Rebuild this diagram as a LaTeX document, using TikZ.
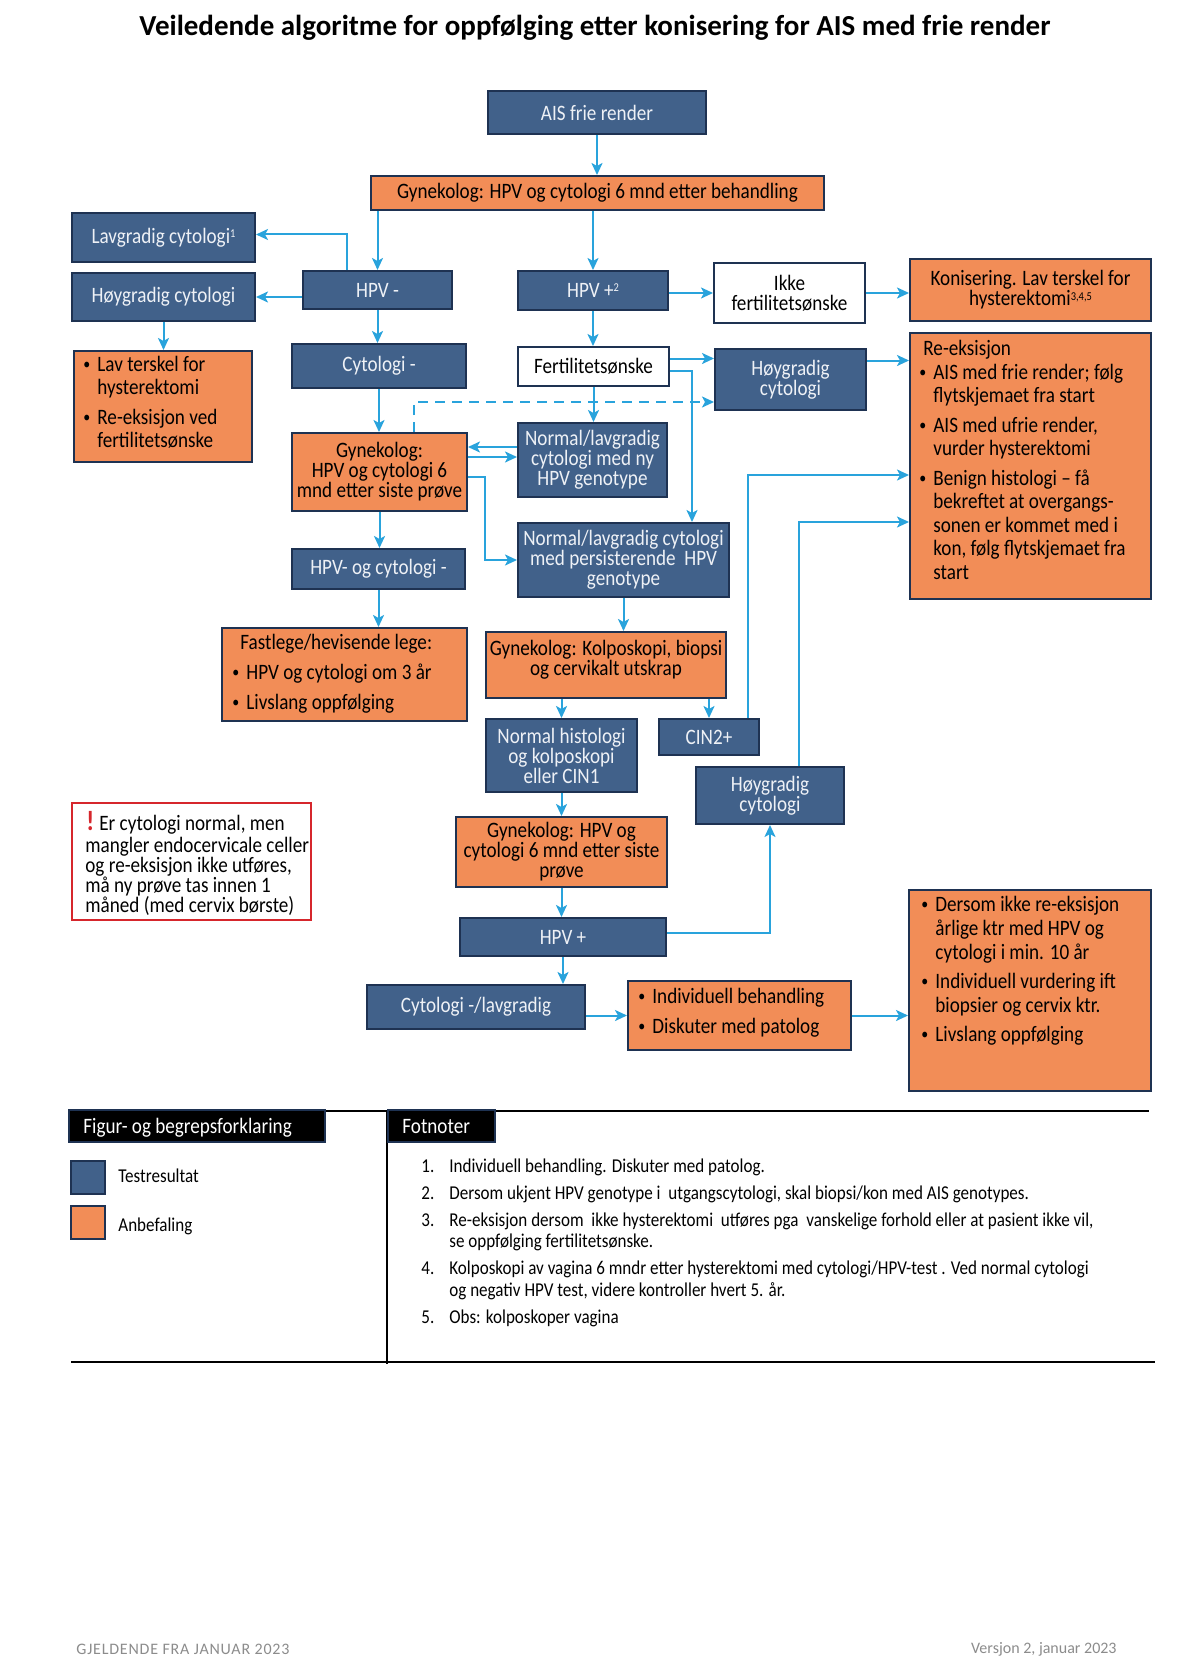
\documentclass[tikz,border=0pt]{standalone}
\usepackage{fontspec}
\setmainfont{Carlito}[FakeStretch=0.87]
\newfontfamily\titlefont{Carlito}
\newfontfamily\footfont{Carlito}
\newfontfamily\footcaps{Carlito}[LetterSpace=5]
\usetikzlibrary{arrows.meta,calc}
\definecolor{boxblue}{RGB}{65,97,138}
\definecolor{boxedge}{RGB}{30,50,82}
\definecolor{boxorange}{RGB}{242,141,87}
\definecolor{arrowblue}{RGB}{41,163,220}
\definecolor{alertred}{RGB}{214,38,44}
\definecolor{footgray}{RGB}{140,140,140}
\definecolor{whitetext}{RGB}{238,241,246}
\lineskiplimit=-100pt
\newcommand\bodyfont{\fontsize{11}{10}\selectfont}
\newcommand\bulmark{\makebox[7pt][l]{\raisebox{0.2ex}{\fontsize{8}{8}\selectfont\textbullet}}}
\newcommand\bulind{\hspace*{7pt}}
\newcommand\fnnum[1]{\makebox[14pt][l]{#1}}
\newcommand\fnind{\hspace*{14pt}}
\newcommand\supmark[1]{\raisebox{0.55ex}{\fontsize{6}{6}\selectfont #1}}
% box from corner (x1,y1) to (x2,y2) in picture pixels
\newcommand\mkbox[7]{\node[#1, minimum width={0.5pt*(#5-#3)}, minimum height={0.5pt*(#6-#4)}] (#2) at ({0.5*(#3+#5)},{0.5*(#4+#6)}) {#7};}
\tikzset{
  boxbase/.style={draw=boxedge, line width=1pt, inner sep=0pt, align=center, font=\bodyfont},
  bluebox/.style={boxbase, fill=boxblue, text=whitetext},
  orangebox/.style={boxbase, fill=boxorange, text=black},
  whitebox/.style={boxbase, fill=white, text=black},
  notebox/.style={draw=alertred, line width=1pt, fill=white, inner sep=0pt},
  headbox/.style={draw=boxedge, line width=1pt, fill=black, inner sep=0pt},
  txt/.style={inner sep=0pt, align=left, font=\bodyfont, text=black},
  arr/.style={draw=arrowblue, line width=1pt, -{Stealth[length=6pt,width=5.5pt,inset=1.5pt]}},
  rule/.style={draw=black, line width=1pt},
}
\begin{document}
\begin{tikzpicture}[x=0.5pt,y=-0.5pt]
\fill[white] (0,0) rectangle (1180,1669);
\useasboundingbox (0,0) rectangle (1180,1669);

% title
\node[inner sep=0pt, font=\titlefont\bfseries\fontsize{14.5}{14.5}\selectfont] (title) at (595,28)
  {Veiledende algoritme for oppfølging etter konisering for AIS med frie render};

% ---- blue boxes (test results)
\mkbox{bluebox}{ais}{488}{91}{706}{134}{AIS frie render}
\mkbox{bluebox}{lav}{72}{213}{255}{262}{Lavgradig cytologi\supmark{1}}
\mkbox{bluebox}{hg}{72}{273}{255}{321}{Høygradig cytologi}
\mkbox{bluebox}{hpvm}{303}{271}{452}{309}{HPV -}
\mkbox{bluebox}{cytm}{292}{344}{466}{388}{Cytologi -}
\mkbox{bluebox}{hpvp}{518}{271}{668}{310}{HPV +\supmark{2}}
\mkbox{bluebox}{hgtr}{715}{349}{866}{410}{Høygradig\\cytologi}
\mkbox{bluebox}{nny}{518}{423}{667}{497}{Normal/lavgradig\\cytologi med ny\\HPV genotype}
\mkbox{bluebox}{persist}{518}{523}{729}{597}{Normal/lavgradig cytologi\\med persisterende~ HPV\\genotype}
\mkbox{bluebox}{hpvcm}{292}{549}{465}{589}{HPV- og cytologi -}
\mkbox{bluebox}{nh}{486}{719}{637}{792}{Normal histologi\\og kolposkopi\\eller CIN1}
\mkbox{bluebox}{cin}{659}{719}{759}{755}{CIN2+}
\mkbox{bluebox}{hgl}{696}{767}{844}{824}{Høygradig\\cytologi}
\mkbox{bluebox}{hpvl}{460}{918}{666}{956}{HPV +}
\mkbox{bluebox}{cytl}{367}{985}{585}{1029}{Cytologi -/lavgradig}

% ---- white boxes
\mkbox{whitebox}{ikke}{714}{263}{865}{323}{Ikke\\fertilitetsønske}
\mkbox{whitebox}{fert}{518}{347}{669}{386}{Fertilitetsønske}

% ---- orange boxes (recommendations)
\mkbox{orangebox}{gyn1}{371}{176}{824}{210}{Gynekolog: HPV og cytologi 6 mnd etter behandling}
\mkbox{orangebox}{gyn2}{292}{433}{467}{511}{Gynekolog:\\HPV og cytologi 6\\mnd etter siste prøve}
\mkbox{orangebox}{kolpo}{486}{632}{726}{698}{}
\node[txt, align=center] (kolpo-t) at (606,660) {Gynekolog: Kolposkopi, biopsi\\og cervikalt utskrap};
\mkbox{orangebox}{gynl}{456}{817}{667}{887}{Gynekolog: HPV og\\cytologi 6 mnd etter siste\\prøve}
\mkbox{orangebox}{konis}{910}{259}{1151}{321}{Konisering. Lav terskel for\\hysterektomi\supmark{3,4,5}}
\mkbox{orangebox}{lavt}{74}{351}{252}{462}{}
\mkbox{orangebox}{fast}{222}{628}{467}{721}{}
\mkbox{orangebox}{indiv}{628}{981}{851}{1050}{}
\mkbox{orangebox}{dersom}{909}{890}{1151}{1091}{}
\mkbox{orangebox}{reeks}{910}{333}{1151}{599}{}

\node[txt, anchor=north west, font=\fontsize{11}{11.5}\selectfont] (lavt-t) at (83,356)
  {\bulmark Lav terskel for\\ \bulind hysterektomi\\[3.5pt] \bulmark Re-eksisjon ved\\ \bulind fertilitetsønske};
\node[txt, anchor=north west, font=\fontsize{11}{15}\selectfont] (fast-t) at (232,634)
  {\hspace*{4pt}Fastlege/hevisende lege:\\ \bulmark HPV og cytologi om 3 år\\ \bulmark Livslang oppfølging};
\node[txt, anchor=north west, font=\fontsize{11}{15}\selectfont] (indiv-t) at (638,988)
  {\bulmark Individuell behandling\\ \bulmark Diskuter med patolog};
\node[txt, anchor=north west, font=\fontsize{11}{12}\selectfont] (dersom-t) at (921,896)
  {\bulmark Dersom ikke re-eksisjon\\ \bulind årlige ktr med HPV og\\ \bulind cytologi i min. 10 år\\[2.5pt]
   \bulmark Individuell vurdering ift\\ \bulind biopsier og cervix ktr.\\[2.5pt]
   \bulmark Livslang oppfølging};
\node[txt, anchor=north west, font=\fontsize{11}{11.75}\selectfont] (reeks-t) at (919,340)
  {\hspace*{2pt}Re-eksisjon\\ \bulmark AIS med frie render; følg\\ \bulind flytskjemaet fra start\\[3pt]
   \bulmark AIS med ufrie render,\\ \bulind vurder hysterektomi\\[3pt]
   \bulmark Benign histologi – få\\ \bulind bekreftet at overgangs-\\ \bulind sonen er kommet med i\\
   \bulind kon, følg flytskjemaet fra\\ \bulind start};

% ---- note box
\mkbox{notebox}{note}{72}{803}{311}{920}{}
\node[inner sep=0pt, anchor=base west, text=alertred, font=\bfseries\fontsize{14}{14}\selectfont] (excl) at (86,830) {!};
\node[txt, anchor=base west] (note-t1) at (99,830) {Er cytologi normal, men};
\node[txt, anchor=north west] (note-t2) at (85,837)
  {mangler endocervicale celler\\ og re-eksisjon ikke utføres,\\ må ny prøve tas innen 1\\ måned (med cervix børste)};

% ---- connectors
\draw[arr] (ais.south) -- (ais.south |- gyn1.north);
\draw[arr] (hpvm.north |- gyn1.south) -- (hpvm.north);
\draw[arr] (hpvp.north |- gyn1.south) -- (hpvp.north);
\draw[arr] ([shift={(45,0)}]hpvm.north west) |- ([shift={(0,-3)}]lav.east);
\draw[arr] (hpvm.west |- hg.east) -- (hg.east);
\draw[arr] (hg.south) -- (hg.south |- lavt.north);
\draw[arr] (hpvm.south) -- (hpvm.south |- cytm.north);
\draw[arr] (cytm.south) -- (cytm.south |- gyn2.north);
\draw[arr, dash pattern=on 5pt off 3.5pt] ([shift={(123,0)}]gyn2.north west) |- ([shift={(0,-9)}]hgtr.south west);
\draw[arr] (hpvp.east |- ikke.west) -- (ikke.west);
\draw[arr] (ikke.east) -- (ikke.east -| konis.west);
\draw[arr] (hpvp.south) -- (hpvp.south |- fert.north);
\draw[arr] ([shift={(0,-8)}]fert.east) coordinate (f1) -- (f1 -| hgtr.west);
\draw[arr] ([shift={(0,4)}]fert.east) -| ([shift={(175,0)}]persist.north west);
\draw[arr] (fert.south) -- (fert.south |- nny.north);
\draw[arr] ([shift={(0,-19)}]hgtr.east) coordinate (h1) -- (h1 -| reeks.west);
\draw[arr] ([shift={(0,-13)}]nny.west) coordinate (n1) -- (n1 -| gyn2.east);
\draw[arr] ([shift={(0,-15)}]gyn2.east) coordinate (g1) -- (g1 -| nny.west);
\draw[arr] ([shift={(0,5)}]gyn2.east) -- ++(17,0) |- (persist.west);
\draw[arr] (gyn2.south) -- (gyn2.south |- hpvcm.north);
\draw[arr] (hpvcm.south) -- (hpvcm.south |- fast.north);
\draw[arr] (persist.south) -- (persist.south |- kolpo.north);
\draw[arr] (nh.north |- kolpo.south) -- (nh.north);
\draw[arr] (cin.north |- kolpo.south) -- (cin.north);
\draw[arr] ([shift={(-12,0)}]cin.north east) |- ([shift={(0,9)}]reeks.west);
\draw[arr] ([shift={(29,0)}]hgl.north) |- ([shift={(0,56)}]reeks.west);
\draw[arr] (nh.south) -- (nh.south |- gynl.north);
\draw[arr] (gynl.south) -- (gynl.south |- hpvl.north);
\draw[arr] ([shift={(0,-4)}]hpvl.east) -| (hgl.south);
\draw[arr] (hpvl.south) -- (hpvl.south |- cytl.north);
\draw[arr] (cytl.east |- indiv.west) -- (indiv.west);
\draw[arr] (indiv.east) -- (indiv.east -| dersom.west);

% ---- legend and footnotes
\draw[rule] (69,1111) -- (1149,1111);
\draw[rule] (387,1110) -- (387,1364);
\draw[rule] (71,1362) -- (1155,1362);
\mkbox{headbox}{leghead}{69}{1110}{325}{1142}{}
\mkbox{headbox}{fnhead}{388}{1110}{495}{1142}{}
\node[inner sep=0pt, anchor=base west, text=white, font=\fontsize{11}{11}\selectfont] (leghead-t) at (83,1133) {Figur- og begrepsforklaring};
\node[inner sep=0pt, anchor=base west, text=white, font=\fontsize{11}{11}\selectfont] (fnhead-t) at (402,1133) {Fotnoter};
\mkbox{bluebox}{legblue}{71}{1161}{105}{1194}{}
\mkbox{orangebox}{legorange}{71}{1206}{105}{1239}{}
\node[inner sep=0pt, anchor=base west, font=\fontsize{9.8}{10}\selectfont] (legblue-t) at (118,1182) {Testresultat};
\node[inner sep=0pt, anchor=base west, font=\fontsize{9.8}{10}\selectfont] (legorange-t) at (118,1231) {Anbefaling};
\node[txt, anchor=north west, font=\fontsize{9.8}{10.75}\selectfont] (fn-t) at (421,1158)
  {\fnnum{1.}Individuell behandling. Diskuter med patolog.\\[2.75pt]
   \fnnum{2.}Dersom ukjent HPV genotype i~ utgangscytologi, skal biopsi/kon med AIS genotypes.\\[2.75pt]
   \fnnum{3.}Re-eksisjon dersom~ ikke hysterektomi~ utføres pga~ vanskelige forhold eller at pasient ikke vil,\\
   \fnind se oppfølging fertilitetsønske.\\[2.75pt]
   \fnnum{4.}Kolposkopi av vagina 6 mndr etter hysterektomi med cytologi/HPV-test . Ved normal cytologi\\
   \fnind og negativ HPV test, videre kontroller hvert 5. år.\\[2.75pt]
   \fnnum{5.}Obs: kolposkoper vagina};

% ---- footer
\node[inner sep=0pt, anchor=west, text=footgray, font=\footcaps\fontsize{8}{8}\selectfont] (foot-l) at (76,1649) {GJELDENDE FRA JANUAR 2023};
\node[inner sep=0pt, anchor=east, text=footgray, font=\footfont\fontsize{8}{8}\selectfont] (foot-r) at (1117,1649) {Versjon 2, januar 2023};
\end{tikzpicture}
\end{document}
